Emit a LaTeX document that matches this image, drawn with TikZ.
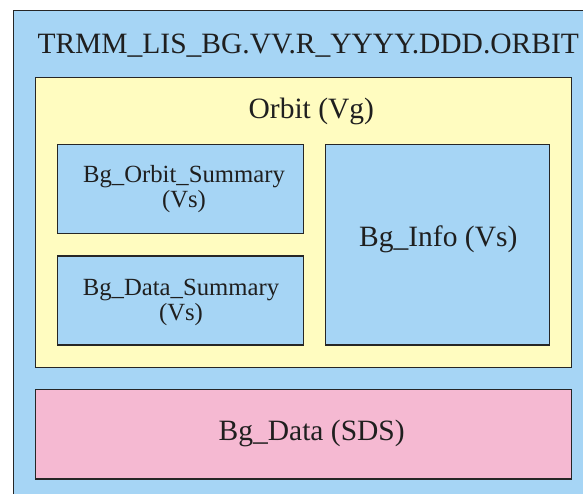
\documentclass[tikz,border=0pt]{standalone}
\usepackage{fontspec}
\setmainfont{Liberation Serif}
\definecolor{fileblue}{RGB}{166,213,245}
\definecolor{vgyellow}{RGB}{255,252,192}
\definecolor{sdspink}{RGB}{245,185,210}
\begin{document}
\begin{tikzpicture}[x=1pt, y=-1pt,
    box/.style={draw=black!85, line width=1.1pt, inner sep=0pt},
    bigtext/.style={font=\fontsize{29.5}{34}\selectfont, text=black!88, inner sep=0pt, anchor=base},
    smalltext/.style={font=\fontsize{24.7}{25.3}\selectfont, text=black!88, inner sep=0pt, align=center, anchor=base}]
    \useasboundingbox (0,0) rectangle (583,494);
    \clip (0,0) rectangle (583,494);

    % File level (runs past the page edge)
    \node[box, fill=fileblue, minimum width=586.7pt, minimum height=499.7pt] (file) at (306.65,260.15) {};
    \node[bigtext, anchor=base west] (filename) at (37.3,54) {TRMM\_LIS\_BG.VV.R\_YYYY.DDD.ORBIT};

    % Orbit vgroup
    \node[box, fill=vgyellow, minimum width=536.4pt, minimum height=290pt] (orbit) at (303.5,222.3) {};
    \node[bigtext] (orbitlabel) at (311.3,118.3) {Orbit (Vg)};

    % Vdata inside the vgroup
    \node[box, fill=fileblue, minimum width=246pt, minimum height=89pt] (orbitsum) at (180.7,188.8) {};
    \node[smalltext] (orbitsumlabel) at (184,208) {Bg\_Orbit\_Summary\\(Vs)};

    \node[box, fill=fileblue, minimum width=246pt, minimum height=89pt] (datasum) at (180.7,300.5) {};
    \node[smalltext] (datasumlabel) at (181,320.5) {Bg\_Data\_Summary\\(Vs)};

    \node[box, fill=fileblue, minimum width=224pt, minimum height=200.7pt] (info) at (437.3,244.65) {};
    \node[bigtext] (infolabel) at (438.3,246.7) {Bg\_Info (Vs)};

    % Science data set
    \node[box, fill=sdspink, minimum width=536.4pt, minimum height=89.3pt] (bgdata) at (303.5,434.35) {};
    \node[bigtext] (bgdatalabel) at (311.7,440.7) {Bg\_Data (SDS)};
\end{tikzpicture}
\end{document}
